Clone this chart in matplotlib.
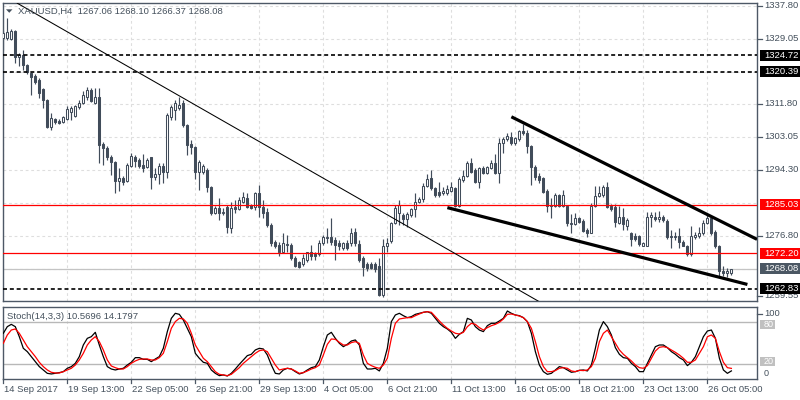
import matplotlib
matplotlib.use('Agg')
import matplotlib.pyplot as plt
from matplotlib.patches import Rectangle, Polygon
from matplotlib.transforms import blended_transform_factory

plt.rcParams['font.family'] = ['Liberation Sans', 'DejaVu Sans']

# ---------------- data ----------------
opens = [1329.30, 1329.30, 1329.03, 1331.15, 1324.27, 1324.80, 1322.15, 1320.04, 1319.24, 1318.18,
         1315.80, 1312.89, 1305.75, 1307.86, 1307.34, 1307.07, 1307.86, 1309.71, 1308.66, 1311.04,
         1312.10, 1313.69, 1315.54, 1312.10, 1313.69, 1301.25, 1300.19, 1297.81, 1296.48, 1291.46,
         1292.25, 1291.46, 1295.43, 1297.81, 1297.01, 1295.70, 1295.17, 1297.81, 1292.52, 1293.31,
         1295.43, 1293.84, 1308.39, 1310.24, 1310.77, 1312.10, 1306.28, 1301.25, 1300.46, 1293.84,
         1293.84, 1294.37, 1289.87, 1282.99, 1284.31, 1282.99, 1284.57, 1279.02, 1284.57, 1284.04,
         1285.90, 1286.96, 1285.10, 1284.57, 1288.29, 1284.57, 1283.25, 1279.82, 1275.32, 1274.53,
         1272.67, 1274.53, 1274.53, 1271.08, 1269.76, 1269.23, 1270.55, 1272.41, 1272.14, 1271.88,
         1275.06, 1276.38, 1276.65, 1275.85, 1275.06, 1273.73, 1275.06, 1275.06, 1277.96, 1274.79,
         1271.08, 1269.23, 1269.23, 1269.23, 1268.70, 1261.03, 1274.00, 1275.59, 1280.35, 1282.99,
         1282.46, 1281.40, 1282.46, 1284.04, 1285.90, 1286.69, 1290.13, 1292.25, 1289.61, 1288.55,
         1288.29, 1288.29, 1288.82, 1289.61, 1284.84, 1291.72, 1292.78, 1296.22, 1294.37, 1291.19,
         1294.90, 1293.58, 1294.90, 1296.22, 1293.58, 1301.51, 1302.57, 1303.10, 1301.51, 1302.57,
         1304.69, 1304.16, 1300.72, 1295.17, 1292.78, 1292.25, 1288.82, 1285.10, 1284.84, 1287.75,
         1284.84, 1284.84, 1280.08, 1280.08, 1281.67, 1280.88, 1278.49, 1277.70, 1284.84, 1287.49,
         1287.75, 1289.87, 1284.84, 1284.57, 1280.35, 1281.93, 1279.55, 1277.70, 1276.91, 1276.91,
         1274.26, 1274.26, 1281.93, 1281.93, 1281.40, 1281.93, 1280.88, 1276.91, 1276.65, 1276.91,
         1275.32, 1274.26, 1272.14, 1276.65, 1276.91, 1277.70, 1280.35, 1281.67, 1277.96, 1274.00,
         1267.38, 1266.85, 1267.06]
highs = [1331.41, 1334.59, 1331.67, 1331.41, 1325.33, 1326.12, 1322.41, 1320.30, 1319.77, 1318.71,
         1316.07, 1313.16, 1309.45, 1308.13, 1307.86, 1308.66, 1311.30, 1311.30, 1311.57, 1312.89,
         1315.27, 1316.33, 1316.07, 1316.07, 1316.07, 1301.78, 1300.72, 1298.34, 1296.75, 1294.90,
         1292.78, 1296.22, 1298.87, 1298.34, 1297.54, 1298.60, 1297.54, 1297.81, 1294.90, 1296.22,
         1296.22, 1309.45, 1311.57, 1312.89, 1313.69, 1312.89, 1306.54, 1302.31, 1300.72, 1297.01,
         1295.96, 1294.90, 1290.13, 1284.84, 1286.96, 1284.31, 1285.10, 1285.90, 1286.43, 1287.22,
         1288.55, 1288.29, 1285.37, 1288.55, 1290.40, 1286.43, 1284.31, 1280.35, 1275.85, 1275.32,
         1277.70, 1277.17, 1275.06, 1271.35, 1270.03, 1271.88, 1272.67, 1274.53, 1272.67, 1275.85,
         1277.17, 1279.02, 1281.67, 1276.65, 1275.85, 1275.32, 1275.85, 1279.02, 1279.02, 1275.85,
         1271.35, 1269.76, 1269.76, 1269.76, 1271.08, 1276.11, 1276.38, 1280.61, 1285.10, 1286.43,
         1282.99, 1283.25, 1284.31, 1288.29, 1287.22, 1290.93, 1293.31, 1294.37, 1289.87, 1291.19,
         1289.87, 1290.40, 1291.19, 1289.87, 1292.52, 1294.37, 1296.75, 1297.54, 1294.90, 1295.17,
         1295.43, 1295.43, 1297.01, 1298.60, 1302.84, 1303.10, 1304.16, 1304.42, 1303.10, 1304.95,
         1306.54, 1304.95, 1300.98, 1295.70, 1293.58, 1292.52, 1289.34, 1286.96, 1288.29, 1288.02,
         1289.08, 1285.10, 1282.72, 1282.99, 1281.93, 1281.40, 1279.02, 1285.63, 1290.13, 1290.13,
         1290.40, 1291.19, 1285.37, 1285.37, 1284.84, 1284.31, 1281.67, 1277.96, 1277.70, 1277.17,
         1275.32, 1283.25, 1283.25, 1283.25, 1283.52, 1282.46, 1281.40, 1278.49, 1277.96, 1279.02,
         1275.85, 1274.53, 1279.55, 1277.96, 1279.29, 1281.14, 1282.46, 1282.20, 1278.49, 1274.53,
         1268.70, 1268.17, 1268.10]
lows = [1326.12, 1328.77, 1328.77, 1322.68, 1321.88, 1320.83, 1319.77, 1314.22, 1317.12, 1313.42,
        1310.77, 1305.48, 1304.95, 1306.54, 1306.54, 1306.81, 1307.60, 1307.60, 1308.39, 1310.50,
        1311.83, 1312.89, 1312.36, 1311.83, 1296.22, 1295.70, 1297.01, 1293.05, 1288.29, 1288.82,
        1290.40, 1291.19, 1295.17, 1295.17, 1294.90, 1293.84, 1294.90, 1289.34, 1291.72, 1290.66,
        1290.93, 1292.25, 1307.60, 1307.60, 1310.24, 1305.75, 1298.34, 1298.60, 1291.99, 1289.08,
        1293.31, 1288.55, 1282.46, 1282.72, 1281.14, 1282.46, 1277.70, 1277.70, 1282.99, 1283.78,
        1285.63, 1284.31, 1284.04, 1283.78, 1281.93, 1281.67, 1279.29, 1274.00, 1273.73, 1271.35,
        1272.41, 1272.41, 1270.55, 1268.44, 1268.17, 1268.70, 1269.76, 1270.55, 1270.55, 1271.35,
        1274.53, 1275.06, 1274.53, 1270.55, 1273.20, 1273.20, 1273.20, 1274.00, 1274.00, 1270.02,
        1266.05, 1267.38, 1267.91, 1267.11, 1260.76, 1260.50, 1272.67, 1275.06, 1280.08, 1279.82,
        1279.82, 1279.29, 1281.93, 1281.93, 1285.63, 1285.90, 1289.87, 1289.08, 1287.22, 1287.22,
        1287.75, 1287.75, 1288.55, 1284.57, 1284.57, 1291.19, 1292.52, 1293.58, 1290.93, 1289.61,
        1293.31, 1293.31, 1294.63, 1293.31, 1290.93, 1298.87, 1302.04, 1300.98, 1300.98, 1302.04,
        1303.63, 1298.87, 1290.40, 1291.72, 1290.93, 1288.29, 1283.25, 1281.67, 1284.57, 1284.57,
        1284.57, 1279.55, 1277.70, 1279.82, 1280.35, 1277.96, 1276.65, 1277.70, 1284.57, 1287.22,
        1287.22, 1284.31, 1283.52, 1279.29, 1280.08, 1278.49, 1278.49, 1274.00, 1275.59, 1274.00,
        1274.00, 1274.00, 1279.29, 1280.88, 1280.61, 1280.61, 1276.11, 1273.47, 1275.85, 1273.47,
        1274.00, 1271.35, 1271.61, 1276.11, 1276.38, 1277.17, 1280.08, 1277.17, 1273.73, 1266.05,
        1266.05, 1265.79, 1266.37]
closes = [1330.62, 1330.88, 1331.15, 1324.27, 1324.80, 1322.15, 1320.30, 1318.97, 1317.65, 1314.75,
          1312.89, 1305.75, 1308.13, 1307.07, 1306.81, 1308.39, 1310.50, 1310.77, 1311.30, 1312.10,
          1314.22, 1315.54, 1312.63, 1313.69, 1300.99, 1300.19, 1297.81, 1296.48, 1291.46, 1292.25,
          1291.19, 1295.70, 1298.07, 1296.75, 1295.43, 1294.90, 1297.01, 1292.52, 1293.31, 1295.43,
          1293.84, 1308.92, 1311.04, 1312.10, 1311.57, 1306.28, 1300.99, 1300.46, 1293.84, 1296.48,
          1295.43, 1289.87, 1282.99, 1284.31, 1282.99, 1283.25, 1279.29, 1284.31, 1284.04, 1286.43,
          1287.22, 1284.57, 1284.31, 1288.29, 1284.57, 1282.99, 1279.82, 1275.06, 1274.00, 1272.67,
          1275.06, 1274.79, 1271.08, 1268.70, 1268.44, 1271.08, 1272.41, 1271.35, 1271.35, 1275.06,
          1276.65, 1276.65, 1275.32, 1274.53, 1274.00, 1275.06, 1273.47, 1277.70, 1275.06, 1270.55,
          1268.44, 1268.17, 1268.17, 1267.91, 1261.03, 1274.00, 1275.06, 1280.35, 1284.31, 1285.10,
          1281.40, 1282.72, 1284.04, 1285.90, 1286.69, 1290.13, 1291.99, 1289.61, 1287.75, 1287.75,
          1288.82, 1289.34, 1289.87, 1284.84, 1291.99, 1292.78, 1296.22, 1293.84, 1291.19, 1294.90,
          1293.58, 1295.17, 1296.22, 1293.58, 1301.51, 1302.57, 1303.37, 1301.51, 1302.84, 1304.69,
          1304.16, 1300.72, 1295.17, 1292.52, 1291.72, 1288.55, 1284.84, 1284.84, 1287.75, 1284.84,
          1287.75, 1280.35, 1280.35, 1281.67, 1280.61, 1278.23, 1277.70, 1284.84, 1287.49, 1288.29,
          1289.87, 1284.57, 1284.04, 1280.61, 1281.93, 1280.08, 1281.14, 1276.11, 1276.11, 1274.79,
          1275.06, 1281.93, 1282.46, 1281.40, 1281.93, 1281.14, 1276.65, 1276.65, 1276.91, 1275.32,
          1274.26, 1272.14, 1276.91, 1277.17, 1277.70, 1280.35, 1281.67, 1277.70, 1274.00, 1267.38,
          1266.85, 1267.38, 1268.08]

stoch_k = [64.3, 73.8, 77.1, 73.8, 59.5, 42.9, 38.1, 31.0, 23.8, 16.7,
           11.9, 7.1, 6.2, 7.1, 8.1, 9.5, 14.3, 16.7, 21.4, 31.0,
           47.6, 57.1, 59.5, 65.7, 47.6, 31.0, 16.7, 13.3, 11.9, 13.3,
           14.3, 19.0, 22.9, 29.5, 29.5, 27.1, 27.1, 23.8, 27.6, 31.0,
           42.9, 66.7, 85.7, 92.9, 91.4, 83.3, 71.4,
           59.5, 35.7, 28.6, 22.9, 21.4, 11.9, 7.1, 3.8, 4.8, 3.3,
           7.1, 13.3, 20.0, 26.2, 32.4, 34.3, 40.5, 42.9, 41.9, 33.3,
           19.0, 7.1, 6.2, 11.9, 14.3, 13.3, 9.5, 6.2, 8.1, 11.9,
           15.2, 16.7, 26.2, 45.2, 61.9, 65.7, 57.1, 50.0, 45.2, 48.6,
           53.3, 54.8, 47.6, 21.4, 13.3, 13.3, 14.3,
           10.5, 21.4, 42.9, 81.0, 90.5, 92.9, 89.5, 86.7, 88.1, 91.4,
           92.9, 94.3, 95.2, 92.9, 85.7, 78.6, 73.8, 70.5, 65.7, 57.1,
           62.9, 66.7, 85.7, 83.3, 73.8, 69.0, 66.7, 75.2, 78.6, 78.6,
           81.9, 85.7, 96.2, 92.9, 90.5, 89.5, 86.7, 81.0, 64.3, 38.1,
           19.0, 9.5, 5.7, 7.1, 11.9, 16.7, 15.2,
           11.9, 8.6, 9.5, 11.4, 11.9, 10.5, 19.0, 42.9, 69.0, 81.0,
           73.8, 61.9, 43.8, 34.3, 29.5, 28.6, 21.4, 16.7, 9.5, 9.5,
           21.4, 33.3, 45.2, 47.6, 47.6, 43.8, 38.1, 34.3, 29.5, 26.2,
           18.1, 22.9, 31.0, 45.2, 59.5, 67.6, 69.0, 57.1, 28.6, 11.9, 7.1, 10.5696]
stoch_d = [50.0, 61.9, 69.0, 70.5, 64.3, 54.8, 45.2, 38.1, 31.0, 22.9,
           16.7, 11.9, 8.6, 7.6, 7.6, 9.5, 11.9, 14.3, 19.0, 26.2,
           35.7, 47.6, 54.8, 59.5, 52.4, 40.5, 26.2, 17.6, 15.2, 13.3,
           13.3, 16.7, 21.4, 24.8, 27.1, 27.6, 27.6, 26.2, 26.2, 29.5,
           35.7, 52.4, 71.4, 81.0, 85.7, 84.8, 78.6,
           64.3, 47.6, 38.1, 28.6, 23.8, 16.7, 9.5, 5.7, 4.8, 3.8,
           5.7, 10.5, 15.2, 21.4, 26.2, 31.0, 35.7, 39.5, 40.5, 38.1,
           28.6, 19.0, 11.9, 13.3, 14.3, 13.3, 10.5, 7.1, 8.1, 10.5,
           13.3, 15.2, 19.0, 33.3, 48.6, 56.2, 55.7, 51.4, 47.6, 47.6,
           51.0, 52.4, 50.0, 33.3, 21.4, 18.1, 15.7,
           14.3, 19.0, 28.6, 57.1, 78.6, 84.8, 85.7, 86.7, 86.7, 89.5,
           91.9, 94.3, 95.2, 94.3, 88.1, 81.9, 76.2, 71.4, 67.6, 64.3,
           63.3, 65.7, 73.8, 78.6, 77.1, 72.4, 69.0, 72.4, 75.2, 77.1,
           80.0, 84.8, 91.4, 91.9, 90.5, 89.0, 86.7, 81.0, 71.4, 52.4,
           31.0, 16.7, 9.5, 9.5, 11.0, 14.3, 15.2,
           14.3, 10.5, 9.5, 11.4, 11.0, 11.9, 16.7, 28.6, 52.4, 64.3,
           69.0, 59.5, 50.0, 40.5, 34.3, 29.5, 24.8, 19.0, 15.2, 14.3,
           18.1, 28.6, 39.0, 44.3, 45.2, 43.8, 40.5, 37.1, 33.3, 28.6,
           22.9, 22.9, 26.2, 35.7, 45.2, 59.5, 61.9, 57.1, 38.1, 22.9, 15.2, 14.1797]

date_labels = ["14 Sep 2017", "19 Sep 13:00", "22 Sep 05:00", "26 Sep 21:00", "29 Sep 13:00",
               "4 Oct 05:00", "6 Oct 21:00", "11 Oct 13:00", "16 Oct 05:00", "18 Oct 21:00",
               "23 Oct 13:00", "26 Oct 05:00"]
bars_per_label = 16

price_ticks = [1337.80, 1329.05, 1320.30, 1311.80, 1303.05, 1294.30, 1285.55, 1276.80, 1268.05, 1259.55]
price_tick_labels = ["1337.80", "1329.05", "", "1311.80", "1303.05", "1294.30", "", "1276.80", "", "1259.55"]

red_levels = [1285.03, 1272.20]
dashed_levels = [1324.72, 1320.39, 1262.83]
bid_price = 1268.08

thin_trend = [(3.5, 1338.5), (134.25, 1259.2)]
upper_trend = [(127.0, 1308.39), (188.5, 1275.85)]
lower_trend = [(111.0, 1284.31), (186.0, 1263.94)]

title = "XAUUSD,H4  1267.06 1268.10 1266.37 1268.08"
stoch_title = "Stoch(14,3,3) 10.5696 14.1797"

# ---------------- styling ----------------
CANDLE = '#414c5a'
FRAME = '#4d5866'
TEXT = '#44505c'
GRID = '#dedede'
FS = 6.8

W, H = 800, 400
fig = plt.figure(figsize=(8, 4), dpi=100)
fig.patch.set_facecolor('white')

def frect(x0, y0, x1, y1):
    return [x0 / W, 1 - y1 / H, (x1 - x0) / W, (y1 - y0) / H]

ax = fig.add_axes(frect(2.5, 3, 757, 301))
ax2 = fig.add_axes(frect(2.5, 307, 757, 379))

n = len(closes)
xs = list(range(n))
XMIN, XMAX = -0.2, 188.4

for a in (ax, ax2):
    a.set_xlim(XMIN, XMAX)
    for s in a.spines.values():
        s.set_color(FRAME)
        s.set_linewidth(1.0)
    a.set_xticks([k * bars_per_label for k in range(len(date_labels))])
    a.set_xticklabels([])
    a.tick_params(axis='both', length=0, labelleft=False, labelbottom=False)
    a.grid(True, axis='x', color=GRID, linestyle=(0, (2.5, 2.5)), linewidth=0.8)
    a.set_axisbelow(True)

YMIN, YMAX = 1259.70, 1338.56
ax.set_ylim(YMIN, YMAX)
ax.set_yticks(price_ticks)
ax.set_yticklabels([])
ax.grid(True, axis='y', color=GRID, linestyle=(0, (2.5, 2.5)), linewidth=0.8)

# bid line
ax.axhline(bid_price, color='#c4c4c4', lw=0.9, zorder=1)

# candles
for i in xs:
    o, h, l, c = opens[i], highs[i], lows[i], closes[i]
    ax.vlines(i, l, h, color=CANDLE, lw=0.85, zorder=2)
    bottom = min(o, c)
    height = max(abs(c - o), 0.15)
    fc = 'white' if c >= o else CANDLE
    ax.add_patch(Rectangle((i - 0.27, bottom), 0.54, height, facecolor=fc,
                           edgecolor=CANDLE, lw=0.75, zorder=3))

# horizontal levels
for lv in red_levels:
    ax.axhline(lv, color='#ff0000', lw=0.9, zorder=4)
for lv in dashed_levels:
    ax.axhline(lv, color='black', lw=1.2, linestyle=(0, (2.4, 1.7)), zorder=4)

# trend lines
def extend(p0, p1, x_end):
    slope = (p1[1] - p0[1]) / (p1[0] - p0[0])
    return [p0[0], x_end], [p0[1], p0[1] + slope * (x_end - p0[0])]

tx, ty = extend(thin_trend[0], thin_trend[1], XMAX)
ax.plot(tx, ty, color='black', lw=0.75, zorder=4)
ux, uy = extend(upper_trend[0], upper_trend[1], XMAX)
ax.plot(ux, uy, color='black', lw=2.3, solid_capstyle='butt', zorder=5)
ax.plot([p[0] for p in lower_trend], [p[1] for p in lower_trend], color='black', lw=2.3,
        solid_capstyle='butt', zorder=5)

# right price scale
tr = blended_transform_factory(ax.transAxes, ax.transData)
px_price = (YMAX - YMIN) / 298.0
for v, lab in zip(price_ticks, price_tick_labels):
    if not lab:
        continue
    yv = v
    if v < YMIN + 4 * px_price:
        yv = YMIN + 4.5 * px_price
    ax.plot([1.0, 1.006], [yv, yv], transform=tr, color=FRAME, lw=0.9, clip_on=False)
    ax.text(1.009, yv, lab, transform=tr, fontsize=FS, color=TEXT, va='center', ha='left')

boxes = [(1324.72, 'black'), (1320.39, 'black'), (1285.03, '#ff0000'), (1272.20, '#ff0000'),
         (bid_price, '#4b5763'), (1262.83, 'black')]
box_h = 11.0 * px_price
for v, col in boxes:
    ax.add_patch(Rectangle((1.0035, v - box_h / 2), 0.0545, box_h, transform=tr,
                           facecolor=col, edgecolor='none', clip_on=False, zorder=6))
    ax.text(1.009, v, f"{v:.2f}", transform=tr, fontsize=FS, color='white',
            va='center', ha='left', zorder=7)

# ---------------- stochastic ----------------
ax2.set_ylim(-1.0, 101.9)
ax2.set_yticks([])
ax2.axhline(80, color='#b8b8b8', lw=1.0, zorder=1)
ax2.axhline(20, color='#b8b8b8', lw=1.0, zorder=1)
ax2.plot(xs, stoch_k, color='black', lw=0.9, zorder=3)
ax2.plot(xs, stoch_d, color='#ff0000', lw=0.9, zorder=4)

tr2 = blended_transform_factory(ax2.transAxes, ax2.transData)
px_st = 102.9 / 72.0
ax2.text(1.009, 91.9, "100", transform=tr2, fontsize=FS, color=TEXT, va='center', ha='left')
ax2.text(1.009, 7.5, "0", transform=tr2, fontsize=FS - 0.3, color=TEXT, va='center', ha='left')
for v, yv in ((80, 76.6), (20, 23.5)):
    ax2.add_patch(Rectangle((1.004, yv - 4.4 * px_st), 0.0195, 8.8 * px_st, transform=tr2,
                            facecolor='#c0c0c0', edgecolor='none', clip_on=False))
    ax2.text(1.009, yv, str(v), transform=tr2, fontsize=FS - 0.3, color='white', va='center', ha='left')
ax2.plot([1.0, 1.006], [91.9, 91.9], transform=tr2, color=FRAME, lw=0.9, clip_on=False)

# date axis
trx = blended_transform_factory(ax2.transData, ax2.transAxes)
for k, lab in enumerate(date_labels):
    xb = k * bars_per_label
    ax2.plot([xb, xb], [0, -0.05], transform=trx, color=FRAME, lw=0.9, clip_on=False)
    ax2.text(xb + 0.05, -0.145, lab, transform=trx, fontsize=FS, color=TEXT,
             va='center', ha='left')

# titles
fig.text(18 / W, 1 - 11.5 / H, title, fontsize=FS, color=TEXT, va='center', ha='left')
fig.patches.append(Polygon([[6 / W, 1 - 9.3 / H], [12.5 / W, 1 - 9.3 / H], [9.25 / W, 1 - 12.8 / H]],
                           closed=True, transform=fig.transFigure, facecolor=TEXT, edgecolor='none'))
fig.text(7 / W, 1 - 316.5 / H, stoch_title, fontsize=FS, color=TEXT, va='center', ha='left')

fig.savefig('out.png', dpi=100, facecolor='white')
